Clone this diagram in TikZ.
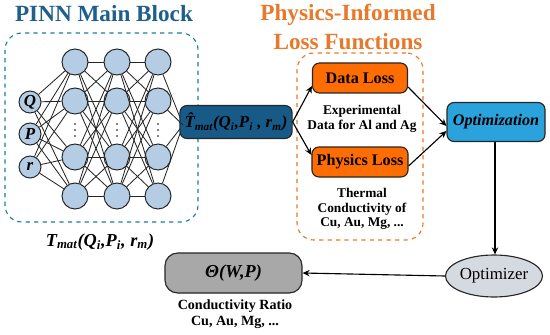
\documentclass[tikz,border=0pt]{standalone}
\usepackage{fontspec}
\setmainfont{Liberation Serif}
\usetikzlibrary{arrows.meta,positioning,shapes.geometric,calc,fit}

\definecolor{pinnblue}{HTML}{1F5F8B}
\definecolor{lossorange}{HTML}{E8782A}
\definecolor{neuronfill}{HTML}{B4CDE4}
\definecolor{outfill}{HTML}{175A88}
\definecolor{optfill}{HTML}{2AA2DC}
\definecolor{optzrfill}{HTML}{D5DAE0}
\definecolor{thetafill}{HTML}{A8A8A8}

\begin{document}
\begin{tikzpicture}[
  x=0.025cm, y=-0.025cm,
  font=\bfseries,
  neuron/.style={circle, draw=black!85, line width=0.7pt, fill=neuronfill, minimum size=26*0.025cm, inner sep=0pt},
  inneuron/.style={neuron, minimum size=22*0.025cm, font=\bfseries\itshape\fontsize{12}{12}\selectfont},
  wire/.style={draw=black!85, line width=0.6pt},
  frame/.style={draw, dashed, line width=0.8pt, rounded corners=12pt, inner sep=0pt},
  title/.style={font=\bfseries\fontsize{16.5}{20}\selectfont, align=center},
  lossbox/.style={draw=black!85, line width=0.8pt, rounded corners=5pt, fill=orange!85!red, minimum width=95*0.025cm,
                  minimum height=30*0.025cm, font=\bfseries\fontsize{11.5}{12}\selectfont},
  note/.style={align=center, font=\bfseries\fontsize{9.5}{10.5}\selectfont},
  arr/.style={draw=black, line width=0.8pt, -{Stealth[length=5pt,width=4.5pt]}}
]
\useasboundingbox (0,0) rectangle (550,334);

% PINN block
\node[title, text=pinnblue] (pinntitle) at (104,14) {PINN Main Block};
\node[frame, draw=pinnblue!80!cyan, fit={(5,33) (198,222)}] (pinnbox) {};

\node[inneuron] (q) at (30,102) {Q};
\node[inneuron] (p) at (30,134) {P};
\node[inneuron] (r) at (30,167) {r};

\node[neuron] (a1) at (75,62) {};
\node[neuron] (a2) at (75,101) {};
\node[neuron] (a3) at (75,157) {};
\node[neuron] (a4) at (75,196) {};
\node[neuron] (b1) at (117,62) {};
\node[neuron] (b2) at (117,101) {};
\node[neuron] (b3) at (117,157) {};
\node[neuron] (b4) at (117,196) {};
\node[neuron] (c1) at (158,62) {};
\node[neuron] (c2) at (158,101) {};
\node[neuron] (c3) at (158,157) {};
\node[neuron] (c4) at (158,196) {};
\coordinate (out) at (183,125);

\foreach \s in {q,p,r}
  \foreach \t in {1,...,4}
    \draw[wire] (\s) -- (a\t);
\foreach \s in {1,...,4}
  \foreach \t in {1,...,4}
    {\draw[wire] (a\s) -- (b\t);
     \draw[wire] (b\s) -- (c\t);}
\foreach \s in {1,...,4}
  \draw[wire] (c\s) -- (out);

% dots between the rows
\foreach \x in {75,117,158}
  \foreach \y in {124,130,136}
    \fill (\x,\y) circle (0.6pt);

\node[font=\bfseries\itshape\fontsize{13}{14}\selectfont] (tlabel) at (100,242)
  {T\textsubscript{mat}(Q\textsubscript{i},P\textsubscript{i}, r\textsubscript{m})};

% prediction
\node[draw=black!85, line width=0.8pt, rounded corners=5pt, fill=outfill, minimum width=93*0.025cm,
      minimum height=33*0.025cm, font=\bfseries\itshape\fontsize{12}{13}\selectfont] (that) at (236,122)
  {\^{T}\textsubscript{mat}(Q\textsubscript{i},P\textsubscript{i} , r\textsubscript{m})};
\draw[wire] (out) -- (that.west);

% loss functions
\node[title, text=lossorange] (losstitle) at (348,27) {Physics-Informed\\Loss Functions};
\node[frame, draw=lossorange, fit={(297,53) (423,240)}] (lossbox) {};
\node[lossbox] (data) at (360,78) {Data Loss};
\node[note] (datanote) at (362,119) {Experimental\\Data for Al and Ag};
\node[lossbox] (phys) at (360,162) {Physics Loss};
\node[note] (physnote) at (362,209) {Thermal\\Conductivity of\\Cu, Au, Mg, ...};

% optimization
\node[draw=black!85, line width=0.8pt, rounded corners=5pt, fill=optfill, minimum width=98*0.025cm,
      minimum height=39*0.025cm, font=\bfseries\itshape\fontsize{11.5}{12}\selectfont] (optim) at (496,122) {Optimization};
\node[ellipse, draw=black!85, line width=0.8pt, fill=optzrfill, minimum width=97*0.025cm,
      minimum height=42*0.025cm, inner sep=0pt, font=\normalfont\fontsize{12}{13}\selectfont] (optzr) at (494,276) {Optimizer};
\node[draw=black!85, line width=0.8pt, rounded corners=9pt, fill=thetafill, minimum width=137*0.025cm,
      minimum height=40*0.025cm, font=\bfseries\itshape\fontsize{13}{14}\selectfont] (theta) at (233.5,273) {Θ(W,P)};
\node[note, font=\bfseries\fontsize{10}{11}\selectfont] (thetanote) at (235,314) {Conductivity Ratio\\Cu, Au, Mg, ...};

% arrows
\draw[arr] (that.east) -- (data.west |- 0,86);
\draw[arr] (that.east) -- (phys.west |- 0,155);
\draw[arr] (data.east |- 0,87) -- ($(optim.west)+(0,4)$);
\draw[arr] (phys.east |- 0,166) -- ($(optim.west)+(0,9)$);
\draw[arr] (optim.south -| 495,0) -- (optzr.north -| 495,0);
\draw[arr] (optzr.west) -- (theta.east);
\end{tikzpicture}
\end{document}
